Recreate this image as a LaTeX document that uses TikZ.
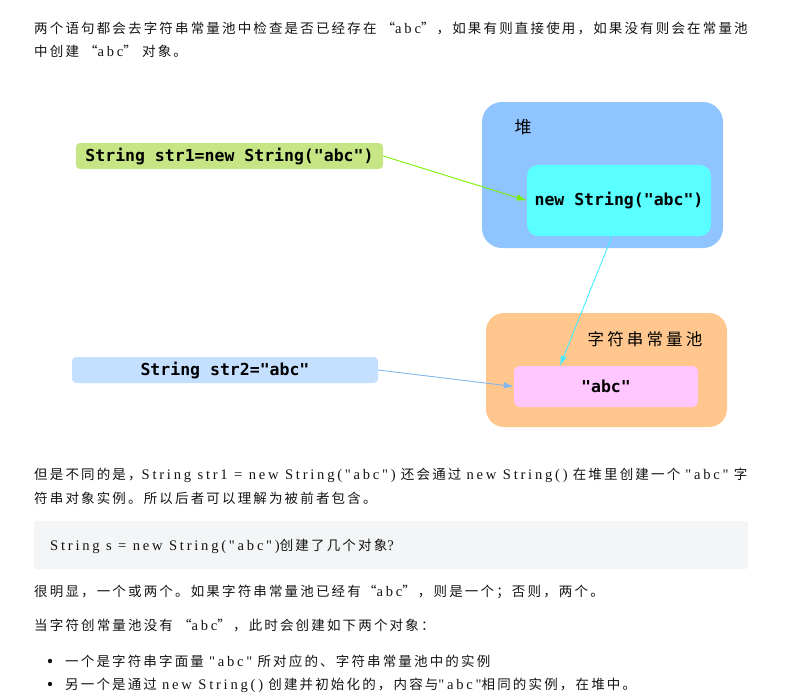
\documentclass[tikz,border=0pt]{standalone}
\usepackage{fontspec}
\setmainfont{Noto Sans CJK SC}[LetterSpace=16]
\newfontfamily\zhfont{Noto Sans CJK SC}[LetterSpace=19]
\newfontfamily\enfont{Liberation Serif}[Scale=1.08,LetterSpace=19]
\newfontfamily\codefont{DejaVu Sans Mono}
\usetikzlibrary{arrows.meta}
\definecolor{textgray}{RGB}{20,20,20}
\definecolor{strgreen}{RGB}{198,230,133}
\definecolor{heapblue}{RGB}{144,196,255}
\definecolor{objcyan}{RGB}{90,255,255}
\definecolor{poolorange}{RGB}{255,199,142}
\definecolor{litpink}{RGB}{255,198,255}
\definecolor{strblue}{RGB}{197,224,255}
\definecolor{codebg}{RGB}{243,245,246}
\definecolor{arrowgreen}{RGB}{120,240,0}
\definecolor{linecyan}{RGB}{70,235,255}
\definecolor{arrowblue}{RGB}{130,182,238}
\begin{document}
\begin{tikzpicture}[x=1pt,y=-1pt,
	txt/.style={anchor=base west,inner sep=0pt,text=textgray,font=\fontsize{13.5}{16}\selectfont},
	panel/.style={rounded corners=#1,inner sep=0pt},
	code/.style={text=black,font=\codefont\bfseries\fontsize{16.5}{18}\selectfont},
	>={Latex[length=10pt,width=6.5pt]}]
	\useasboundingbox (0,0) rectangle (793,699);
	% text above the picture
	\node[txt] (l1) at (34,33) {两个语句都会去字符串常量池中检查是否已经存在 “{\enfont abc}”，如果有则直接使用，如果没有则会在常量池};
	\node[txt] (l2) at (34,56) {中创建 “{\enfont abc}” 对象。};
	% heap and pool
	\node[panel=20pt,fill=heapblue,minimum width=241pt,minimum height=146pt] (heap) at (602.5,175) {};
	\node[panel=11pt,fill=objcyan,minimum width=184pt,minimum height=71pt,code] (obj) at (619,200.5) {new String("abc")};
	\node[font=\zhfont\fontsize{17}{18}\selectfont] (heaplbl) at (523,127) {堆};
	\node[panel=18pt,fill=poolorange,minimum width=241pt,minimum height=114pt] (pool) at (606.5,370) {};
	\node[panel=6pt,fill=litpink,minimum width=184pt,minimum height=41pt,code] (lit) at (606,386.5) {"abc"};
	\node[font=\zhfont\fontsize{16.5}{18}\selectfont] (poollbl) at (645,339) {字符串常量池};
	% the two statements
	\node[panel=4pt,fill=strgreen,minimum width=307pt,minimum height=26pt,code] (s1) at (229.5,156) {String str1=new String("abc")};
	\node[panel=4pt,fill=strblue,minimum width=306pt,minimum height=26pt,code] (s2) at (225,370) {String str2="abc"};
	\draw[->,draw=arrowgreen,line width=0.9pt] (s1.east) -- (obj.west);
	\draw[->,draw=linecyan,line width=0.9pt] ([xshift=-7pt]obj.south) -- ([xshift=-46pt]lit.north);
	\draw[->,draw=arrowblue,line width=0.9pt] (s2.east) -- (lit.west);
	% text below the picture
	\node[txt] (p1) at (34,479) {但是不同的是，{\enfont String str1 = new String("abc")} 还会通过 {\enfont new String()} 在堆里创建一个 {\enfont "abc"} 字};
	\node[txt] (p2) at (34,503) {符串对象实例。所以后者可以理解为被前者包含。};
	\fill[codebg,rounded corners=3pt] (34,521) rectangle (748,569);
	\node[txt] (q) at (50,550) {{\enfont String s = new String("abc")}创建了几个对象{\enfont ?}};
	\node[txt] (p3) at (34,596) {很明显，一个或两个。如果字符串常量池已经有“{\enfont abc}”，则是一个；否则，两个。};
	\node[txt] (p4) at (34,630) {当字符创常量池没有 “{\enfont abc}”，此时会创建如下两个对象：};
	\fill[textgray] (50,661) circle (2.2);
	\fill[textgray] (50,684) circle (2.2);
	\node[txt] (b1) at (65,666) {一个是字符串字面量 {\enfont "abc"} 所对应的、字符串常量池中的实例};
	\node[txt] (b2) at (65,689) {另一个是通过 {\enfont new String()} 创建并初始化的，内容与{\enfont "abc"}相同的实例，在堆中。};
\end{tikzpicture}
\end{document}
